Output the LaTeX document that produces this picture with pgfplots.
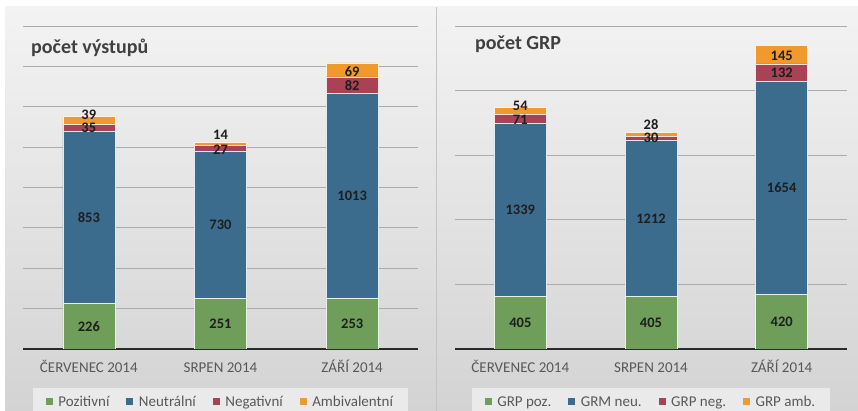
\documentclass[border=0pt]{standalone}
\usepackage{fontspec}
\setmainfont{Carlito}
\usepackage{pgfplots}
\usepackage{pgfplotstable}
\pgfplotsset{compat=1.18}

\definecolor{cpos}{HTML}{6E9E5A}
\definecolor{cneu}{HTML}{3C6C8D}
\definecolor{cneg}{HTML}{AA4255}
\definecolor{camb}{HTML}{F2992E}
\definecolor{gridc}{HTML}{ABABAB}
\definecolor{axisc}{HTML}{2A2A2A}
\definecolor{tickc}{HTML}{595959}
\definecolor{titlec}{HTML}{404040}
\definecolor{labc}{HTML}{1E1E1E}
\definecolor{bgtop}{HTML}{F3F3F3}
\definecolor{bgbot}{HTML}{D3D3D3}
\definecolor{legbg}{HTML}{EAEAEA}

% pocet vystupu
\pgfplotstableread{
x pos neu neg amb
0 226 853 35 39
1 251 730 27 14
2 253 1013 82 69
}\vystupy

% pocet GRP
\pgfplotstableread{
x pos neu neg amb
0 405 1339 71 54
1 405 1212 30 28
2 420 1654 132 145
}\grp

% popisky (stred segmentu)
\pgfplotstableread{
x y t
0 113 226
0 652 853
0 1095 35
0 1159 39
1 125 251
1 616 730
1 986 27
1 1060 14
2 126 253
2 760 1013
2 1303 82
2 1372 69
}\vystupylab

\pgfplotstableread{
x y t
0 202 405
0 1074 1339
0 1772 71
0 1881 54
1 202 405
1 1011 1212
1 1633 30
1 1741 28
2 210 420
2 1247 1654
2 2136 132
2 2268 145
}\grplab

\pgfplotsset{
  panel/.style={
    scale only axis, height=323pt, anchor=south west,
    xmin=-0.5, xmax=2.5, ymin=0, enlargelimits=false,
    axis lines*=left,
    y axis line style={draw=none},
    x axis line style={line width=2.4pt, color=axisc},
    xtick={0,1,2},
    xticklabels={ČERVENEC 2014, SRPEN 2014, ZÁŘÍ 2014},
    major tick length=0pt, yticklabels={},
    ymajorgrids, grid style={line width=0.9pt, color=gridc},
    x tick label style={font=\fontsize{15}{18}\selectfont, text=tickc, anchor=base, yshift=-24pt},
    ybar stacked, bar width=52pt,
    legend columns=4,
    legend image code/.code={\fill[#1, draw=none] (0pt,-3.5pt) rectangle (7pt,3.5pt);},
    legend style={at={(0.5,-0.164)}, anchor=center, draw=none, fill=legbg,
      font=\fontsize{15}{18}\selectfont, text=tickc,
      inner xsep=13pt, inner ysep=6pt,
      /tikz/every odd column/.append style={column sep=3.5pt},
      /tikz/every even column/.append style={column sep=15pt}},
  },
  seg/.style={fill=#1, draw=white!85!#1, line width=0.6pt},
  labels/.style={
    scale only axis, height=323pt, anchor=south west,
    xmin=-0.5, xmax=2.5, ymin=0, enlargelimits=false,
    hide axis, clip=false,
  },
  lab/.style={draw=none, mark=none, nodes near coords, point meta=explicit symbolic,
    every node near coord/.append style={anchor=center, inner sep=0pt,
      font=\bfseries\fontsize{14.5}{16}\selectfont, text=labc}},
}

\begin{document}
\begin{tikzpicture}
\useasboundingbox (0,0) rectangle (858pt,411pt);
% pozadi panelu
\shade[top color=bgtop, bottom color=bgbot] (5pt,0pt) rectangle (436pt,404pt);
\shade[top color=bgtop, bottom color=bgbot] (437pt,0pt) rectangle (858pt,404pt);
\draw[color=gridc!70, line width=0.6pt] (436.5pt,0pt) -- (436.5pt,404pt);

% levy graf
\begin{axis}[panel, at={(23pt,62pt)}, width=395pt, ymax=1600, ytick={0,200,...,1600}]
  \addplot[seg=cpos] table[x=x, y=pos] {\vystupy};
  \addplot[seg=cneu] table[x=x, y=neu] {\vystupy};
  \addplot[seg=cneg] table[x=x, y=neg] {\vystupy};
  \addplot[seg=camb] table[x=x, y=amb] {\vystupy};
  \legend{Pozitivní, Neutrální, Negativní, Ambivalentní}
\end{axis}
\begin{axis}[labels, at={(23pt,62pt)}, width=395pt, ymax=1600]
  \addplot[lab] table[x=x, y=y, meta=t] {\vystupylab};
\end{axis}
\node[anchor=base west, font=\bfseries\fontsize{20}{24}\selectfont, text=titlec, inner sep=0pt] at (31pt,357pt) {počet výstupů};

% pravy graf
\begin{axis}[panel, at={(455pt,62pt)}, width=392pt, ymax=2500, ytick={0,500,...,2500}]
  \addplot[seg=cpos] table[x=x, y=pos] {\grp};
  \addplot[seg=cneu] table[x=x, y=neu] {\grp};
  \addplot[seg=cneg] table[x=x, y=neg] {\grp};
  \addplot[seg=camb] table[x=x, y=amb] {\grp};
  \legend{GRP poz., GRM neu., GRP neg., GRP amb.}
\end{axis}
\begin{axis}[labels, at={(455pt,62pt)}, width=392pt, ymax=2500]
  \addplot[lab] table[x=x, y=y, meta=t] {\grplab};
\end{axis}
\node[anchor=base west, font=\bfseries\fontsize{20}{24}\selectfont, text=titlec, inner sep=0pt] at (475pt,361pt) {počet GRP};
\end{tikzpicture}
\end{document}
